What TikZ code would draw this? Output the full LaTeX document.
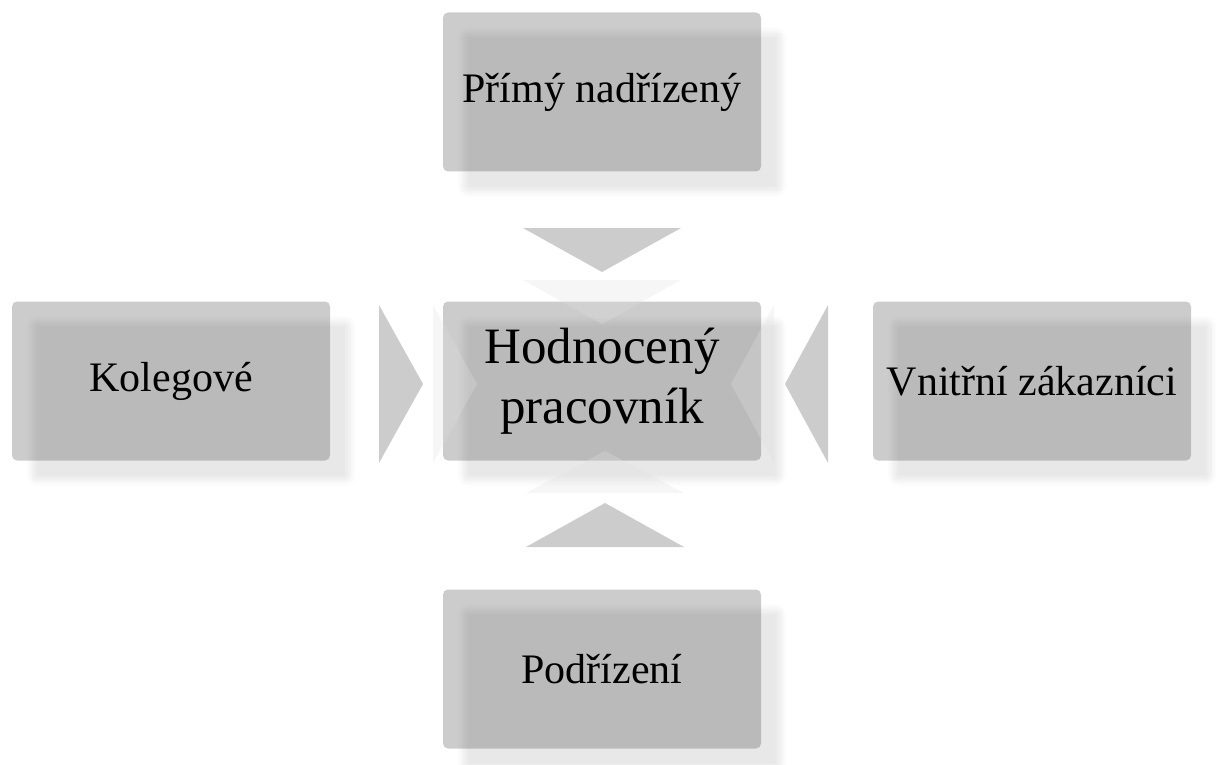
\documentclass[tikz,border=0pt]{standalone}
\usepackage{fontspec}
\setmainfont{Liberation Serif}
\usetikzlibrary{shadows.blur}
\begin{document}
\begin{tikzpicture}[x=1pt,y=-1pt,
  box/.style={minimum width=318pt, minimum height=159pt, rounded corners=5pt,
    fill=black, fill opacity=0.2, text opacity=1, inner sep=0pt, align=center,
    font=\fontsize{42}{50}\selectfont,
    blur shadow={shadow xshift=20pt, shadow yshift=-20pt, shadow blur steps=8, shadow blur radius=6pt, shadow opacity=45}},
  bigtext/.style={font=\fontsize{51}{60}\selectfont},
  arrowshape/.style={fill=black!20, draw=none},
  fadedshape/.style={fill=black!12, fill opacity=0.3, draw=none}]
\useasboundingbox (0,0) rectangle (1216,765);
\node[box] (top) at (602,92) {Přímý nadřízený};
\node[box, bigtext] (center) at (602,381) {Hodnocený\\pracovník};
\node[box] (left) at (171,381) {Kolegové};
\node[box] (right) at (1032,381) {Vnitřní zákazníci};
\node[box] (bottom) at (602,669) {Podřízení};
% arrows
\fill[arrowshape] (523,228) -- (681,228) -- (602,272) -- cycle;
\fill[arrowshape] (526,547) -- (684,547) -- (605,503) -- cycle;
\fill[arrowshape] (379,305) -- (379,463) -- (423,384) -- cycle;
\fill[arrowshape] (828,305) -- (828,463) -- (785,384) -- cycle;
% faded reflections
\fill[fadedshape] (523,280) -- (681,280) -- (602,324) -- cycle;
\fill[fadedshape] (526,493) -- (684,493) -- (605,451) -- cycle;
\fill[fadedshape] (433,305) -- (433,463) -- (477,384) -- cycle;
\fill[fadedshape] (774,305) -- (774,463) -- (731,384) -- cycle;
\end{tikzpicture}
\end{document}
